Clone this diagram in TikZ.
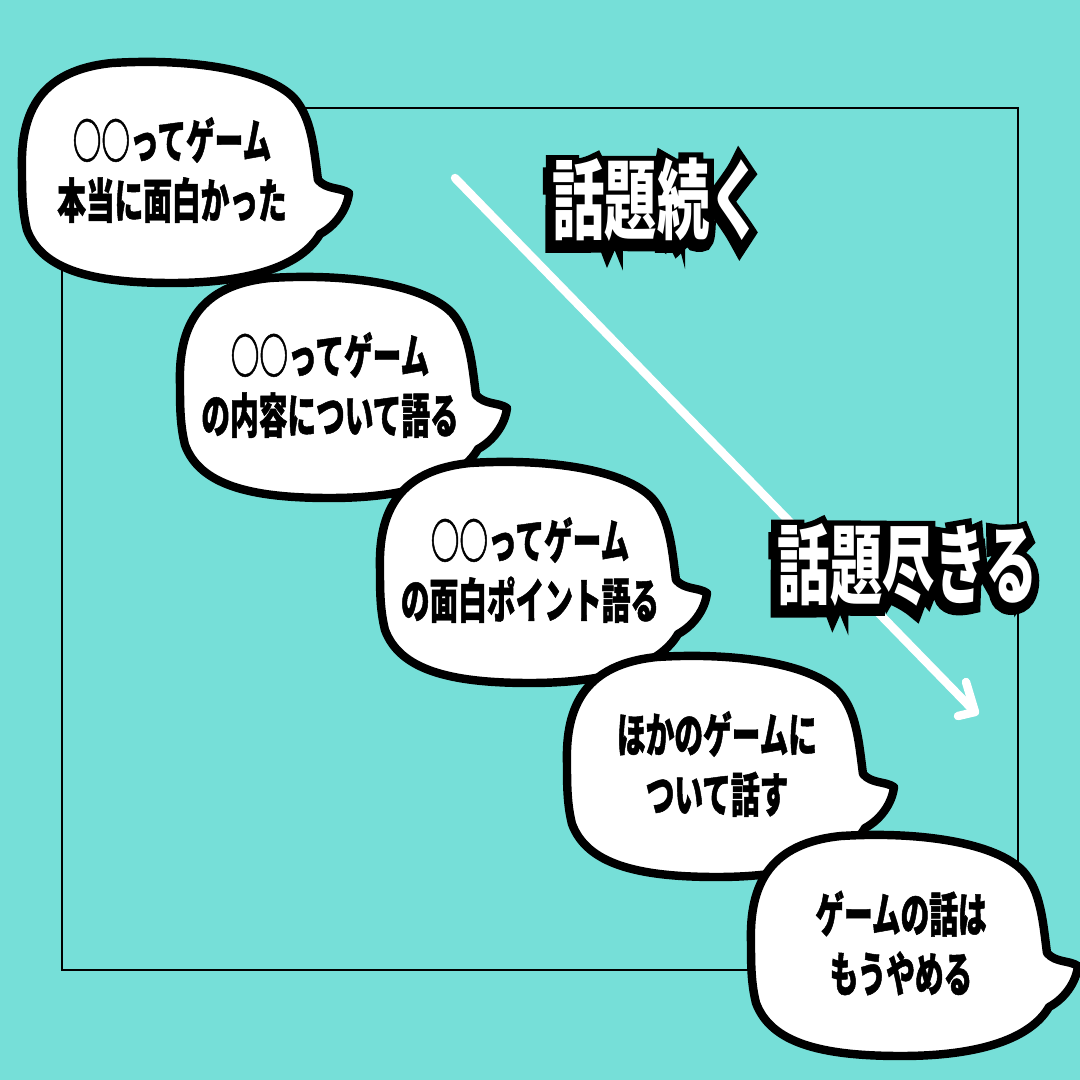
\documentclass[tikz,border=0pt]{standalone}
\usepackage{fontspec}
\newfontfamily\cjk{Noto Sans CJK JP}[FakeStretch=0.6]
\newfontfamily\cjkbub{Noto Sans CJK JP}[FakeStretch=0.6, FakeBold=1]
\newfontfamily\cjkout{Noto Sans CJK JP}[FakeStretch=0.6, FakeBold=20]
\definecolor{bgteal}{RGB}{118,223,216}
\tikzset{
  bubstyle/.style={draw=black, fill=white, line width=6pt, line join=round},
  bubtext/.style={align=center, inner sep=0pt, text=black,
    font=\cjkbub\bfseries\fontsize{34}{42.5}\selectfont},
  labtext/.style={inner sep=0pt, font=\cjk\bfseries\fontsize{62}{70}\selectfont},
  labout/.style={inner sep=0pt, font=\cjkout\bfseries\fontsize{62}{70}\selectfont},
  bub/.pic={
    \draw[bubstyle] (-150,0) .. controls (-152,-60) and (-130,-100) .. (-60,-107)
      .. controls (20,-112) and (95,-100) .. (122,-72)
      .. controls (140,-52) and (142,-20) .. (146,10)
      .. controls (155,20) and (168,17) .. (177,23)
      .. controls (175,40) and (163,56) .. (148,64)
      .. controls (130,95) and (80,113) .. (0,113)
      .. controls (-80,113) and (-130,100) .. (-145,60)
      .. controls (-150,40) and (-150,20) .. (-150,0) -- cycle;
  }
}
\begin{document}
\begin{tikzpicture}[x=0.025cm, y=-0.025cm]
\useasboundingbox (0,0) rectangle (1080,1080);
\fill[bgteal] (0,0) rectangle (1080,1080);
% frame
\draw[line width=1.4pt] (62,108) rectangle (1018,970);
% arrow
\coordinate (astart) at (455,178);
\coordinate (atip) at (975,712);
\coordinate (ah1) at (966,682);
\coordinate (ah2) at (958,716);
\draw[white, line width=6pt, line cap=round, line join=round] (astart) -- (atip);
\draw[white, line width=6pt, line cap=round, line join=round] (ah1) -- (atip) -- (ah2);
% labels with outline
\node[labout, text=black] (lonesh) at (655,203) {話題続く};
\node[labout, text=black] (ltwosh) at (906,568) {話題尽きる};
\node[labtext, text=white] (lone) at (657,200) {話題続く};
\node[labtext, text=white] (ltwo) at (908,565) {話題尽きる};
% bubbles
\pic (b1) at (172,170) {bub};
\node[bubtext] (t1) at (172,170) {○○ってゲーム\\本当に面白かった};
\pic (b2) at (330,385) {bub};
\node[bubtext] (t2) at (330,385) {○○ってゲーム\\の内容について語る};
\pic (b3) at (530,570) {bub};
\node[bubtext] (t3) at (530,570) {○○ってゲーム\\の面白ポイント語る};
\pic (b4) at (717,764) {bub};
\node[bubtext] (t4) at (717,764) {ほかのゲームに\\ついて話す};
\pic (b5) at (901,943) {bub};
\node[bubtext] (t5) at (901,943) {ゲームの話は\\もうやめる};
\end{tikzpicture}
\end{document}
